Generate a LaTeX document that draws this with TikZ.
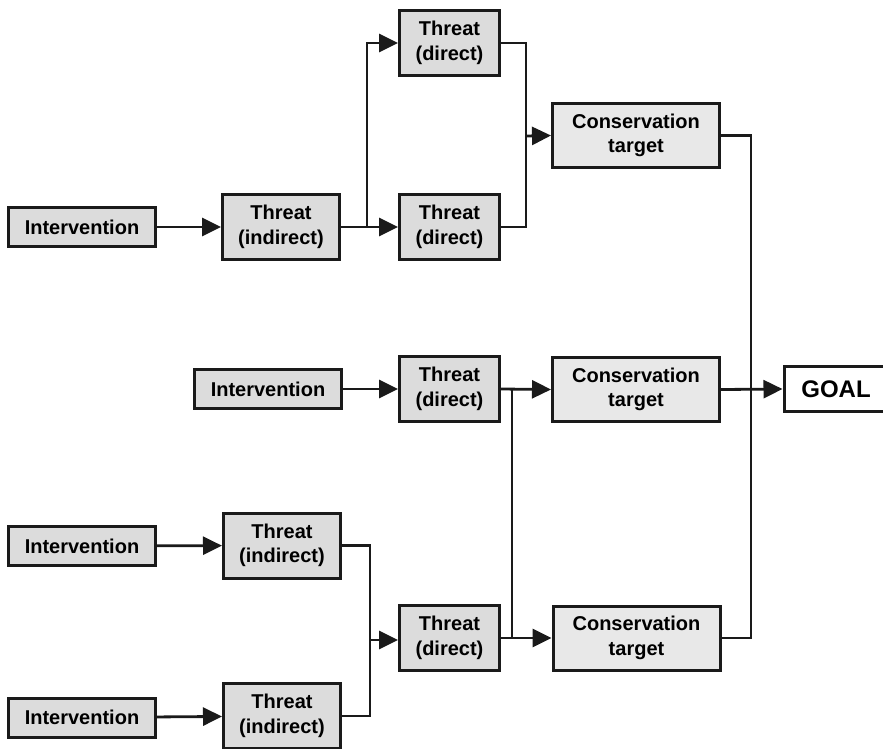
\documentclass[tikz,border=0pt]{standalone}
\usepackage{fontspec}
\setmainfont{Liberation Sans}
\usetikzlibrary{arrows.meta}
\definecolor{ink}{HTML}{1A1A1A}
\definecolor{boxgray}{HTML}{DCDCDC}
\definecolor{lightgray}{HTML}{E8E8E8}
\tikzset{
  box/.style={draw=ink, line width=3pt, fill=boxgray, align=center,
    inner sep=0pt, font=\fontsize{20}{24.5}\selectfont\bfseries},
  smallbox/.style={box, minimum width=147pt, minimum height=39pt},
  threatbox/.style={box, minimum width=117pt, minimum height=65pt},
  directbox/.style={box, minimum width=100pt, minimum height=65pt},
  targetbox/.style={box, fill=lightgray, minimum width=167pt, minimum height=64pt},
  goalbox/.style={box, fill=white, minimum width=104pt, minimum height=45pt,
    font=\fontsize{24}{28}\selectfont\bfseries},
  link/.style={draw=ink, line width=2.8pt},
  arr/.style={link, -{Triangle[length=19pt,width=18pt]}}
}
\begin{document}
\begin{tikzpicture}[x=1pt,y=-1pt]
  \clip (0,0) rectangle (883,748);
  \fill[white] (0,0) rectangle (883,748);

  % upper chain
  \node[smallbox]  (i1)  at (82,227)    {Intervention};
  \node[threatbox] (ti1) at (281,227)   {Threat\\(indirect)};
  \node[directbox] (td1) at (449.5,43)  {Threat\\(direct)};
  \node[directbox] (td2) at (449.5,227) {Threat\\(direct)};
  \node[targetbox] (ct1) at (636,135.5) {Conservation\\target};

  % middle chain
  \node[smallbox]  (i2)  at (268,389)   {Intervention};
  \node[directbox] (td3) at (449.5,389) {Threat\\(direct)};
  \node[targetbox] (ct2) at (636,389.5) {Conservation\\target};
  \node[goalbox]   (goal) at (836,389)  {GOAL};

  % lower chain
  \node[smallbox]  (i3)  at (82,546)    {Intervention};
  \node[threatbox] (ti3) at (282,545.5) {Threat\\(indirect)};
  \node[smallbox]  (i4)  at (82,717.5)  {Intervention};
  \node[threatbox] (ti4) at (282,716)   {Threat\\(indirect)};
  \node[directbox] (td4) at (449.5,638) {Threat\\(direct)};
  \node[targetbox] (ct3) at (636.5,638) {Conservation\\target};

  % junction points
  \coordinate (s1) at (367,227);
  \coordinate (s2) at (526,136);
  \coordinate (s3) at (370,640);
  \coordinate (s4) at (512,389);
  \coordinate (s5) at (512,638);
  \coordinate (s6) at (751,389);

  % upper connectors
  \draw[arr] (i1) -- (ti1);
  \draw[arr] (ti1) -- (td2);
  \draw[arr] (s1) |- (td1.west);
  \draw[link] (td1.east) -| (s2);
  \draw[link] (td2.east) -| (s2);
  \draw[arr] (s2) -- (ct1.west);

  % middle connectors
  \draw[arr] (i2) -- (td3);
  \draw[arr] (td3.east) -- (ct2.west);
  \draw[link] (s4) -- (s5);

  % lower connectors
  \draw[arr] (i3) -- (ti3);
  \draw[arr] (i4) -- (ti4);
  \draw[link] (ti3.east) -| (s3);
  \draw[link] (ti4.east) -| (s3);
  \draw[arr] (s3) -- (td4.west |- s3);
  \draw[arr] (td4.east) -- (ct3.west);

  % collecting line into the goal
  \draw[link] (ct1.east) -| (s6);
  \draw[link] (ct3.east) -| (s6);
  \draw[arr] (ct2.east) -- (goal.west);
\end{tikzpicture}
\end{document}
